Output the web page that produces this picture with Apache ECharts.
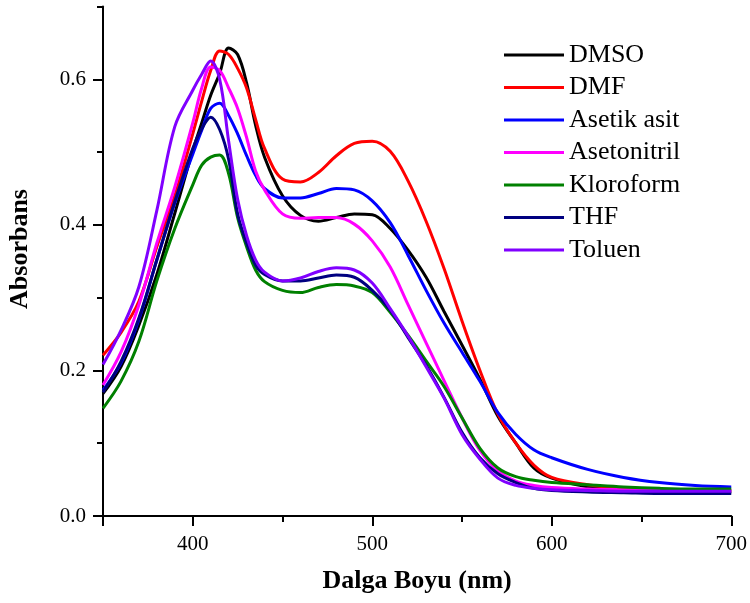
<!DOCTYPE html>
<html>
<head>
<meta charset="utf-8">
<script src="https://cdn.jsdelivr.net/npm/echarts@6/dist/echarts.min.js"></script>
<style>html,body{margin:0;padding:0;background:#fff}#c{width:750px;height:603px}</style>
</head>
<body>
<div id="c"></div>
<script>
var wavelength = [350,360,370,380,390,400,405,410,415,420,425,430,435,440,450,460,470,480,490,500,510,520,530,540,550,560,570,580,590,600,620,640,660,680,700];
var seriesNames = ['DMSO','DMF','Asetik asit','Asetonitril','Kloroform','THF','Toluen'];
var dmso        = [0.168,0.205,0.262,0.332,0.416,0.502,0.540,0.578,0.608,0.643,0.634,0.595,0.537,0.493,0.440,0.413,0.405,0.410,0.415,0.414,0.395,0.365,0.328,0.281,0.235,0.188,0.137,0.100,0.066,0.052,0.040,0.036,0.034,0.033,0.033];
var dmf         = [0.221,0.252,0.295,0.370,0.440,0.525,0.570,0.612,0.639,0.634,0.615,0.588,0.545,0.505,0.463,0.459,0.472,0.495,0.512,0.515,0.501,0.460,0.405,0.340,0.268,0.200,0.140,0.100,0.070,0.053,0.043,0.038,0.036,0.035,0.035];
var asetikAsit  = [0.173,0.210,0.270,0.352,0.430,0.497,0.530,0.560,0.567,0.550,0.525,0.495,0.468,0.450,0.437,0.437,0.443,0.450,0.448,0.433,0.403,0.358,0.310,0.265,0.225,0.185,0.142,0.112,0.091,0.080,0.064,0.053,0.046,0.042,0.040];
var asetonitril = [0.180,0.225,0.290,0.375,0.452,0.540,0.588,0.617,0.612,0.588,0.560,0.520,0.474,0.448,0.415,0.409,0.410,0.410,0.401,0.378,0.342,0.290,0.238,0.186,0.135,0.090,0.062,0.048,0.042,0.039,0.037,0.036,0.035,0.035,0.035];
var kloroform   = [0.148,0.185,0.240,0.323,0.395,0.455,0.482,0.493,0.496,0.470,0.410,0.370,0.338,0.322,0.310,0.307,0.314,0.318,0.316,0.307,0.280,0.248,0.213,0.178,0.135,0.093,0.066,0.054,0.049,0.046,0.043,0.040,0.038,0.037,0.037];
var thf         = [0.170,0.212,0.272,0.352,0.432,0.505,0.532,0.548,0.531,0.490,0.415,0.375,0.345,0.332,0.323,0.323,0.327,0.331,0.328,0.310,0.283,0.245,0.207,0.163,0.115,0.080,0.058,0.046,0.038,0.035,0.033,0.032,0.031,0.031,0.031];
var toluen      = [0.208,0.255,0.315,0.420,0.535,0.585,0.607,0.625,0.600,0.515,0.435,0.385,0.352,0.335,0.323,0.327,0.336,0.341,0.338,0.320,0.285,0.247,0.205,0.162,0.112,0.078,0.052,0.042,0.038,0.036,0.035,0.034,0.034,0.034,0.034];
var seriesColors = ['#000000','#ff0000','#0000ff','#ff00ff','#008000','#000080','#8000ff'];
var xMajorTicks = [350,400,500,600,700];
var xLabels = [400,500,600,700];
var xMinorTicks = [450,550,650];
var yMajorTicks = [0,0.2,0.4,0.6];
var yMinorTicks = [0.1,0.3,0.5,0.7];

var allValues = [dmso,dmf,asetikAsit,asetonitril,kloroform,thf,toluen];
var font = 'Liberation Serif, Times New Roman, serif';

function pairs(vals){ return wavelength.map(function(w,i){return [w, vals[i]];}); }

var series = seriesNames.map(function(n,i){
  return {
    name:n, type:'line', xAxisIndex:0, yAxisIndex:0,
    data: pairs(allValues[i]), smooth:0.35, symbol:'none',
    lineStyle:{color:seriesColors[i], width:3}, itemStyle:{color:seriesColors[i]}
  };
});

var chart = echarts.init(document.getElementById('c'));
chart.setOption({
  animation:false,
  backgroundColor:'#ffffff',
  grid:{left:103, right:17, top:6.5, bottom:87, containLabel:false},
  legend:{
    orient:'vertical', left:504, top:42, padding:0, icon:'rect', itemWidth:60, itemHeight:3,
    itemGap:6.5, data:seriesNames,
    textStyle:{fontFamily:font, fontSize:26, color:'#000'}
  },
  xAxis:[{
    type:'value', min:350, max:700, position:'bottom',
    name:'Dalga Boyu (nm)', nameLocation:'middle', nameGap:52,
    nameTextStyle:{fontFamily:font, fontSize:26, fontWeight:'bold', color:'#000'},
    axisLine:{show:true, onZero:false, lineStyle:{color:'#000', width:2}},
    axisTick:{show:true, inside:false, length:10, customValues:xMajorTicks, lineStyle:{color:'#000', width:2}},
    axisLabel:{show:true, customValues:xLabels, margin:18, fontFamily:font, fontSize:21, color:'#000'},
    splitLine:{show:false}
  },{
    type:'value', min:350, max:700, position:'bottom',
    axisLine:{show:false},
    axisTick:{show:true, length:6, customValues:xMinorTicks, lineStyle:{color:'#000', width:2}},
    axisLabel:{show:false}, splitLine:{show:false}
  }],
  yAxis:[{
    type:'value', min:0, max:0.7, position:'left',
    axisLine:{show:true, onZero:false, lineStyle:{color:'#000', width:2}},
    axisTick:{show:true, length:10, customValues:yMajorTicks, lineStyle:{color:'#000', width:2}},
    axisLabel:{show:true, customValues:yMajorTicks, margin:17, fontFamily:font, fontSize:21, color:'#000',
      formatter:function(v){return v.toFixed(1);}},
    splitLine:{show:false}
  },{
    type:'value', min:0, max:0.7, position:'left',
    axisLine:{show:false},
    axisTick:{show:true, length:6, customValues:yMinorTicks, lineStyle:{color:'#000', width:2}},
    axisLabel:{show:false}, splitLine:{show:false}
  }],
  graphic:[{
    type:'text', x:20, y:249, rotation:Math.PI/2,
    style:{text:'Absorbans', font:'bold 26px ' + font, fill:'#000', textAlign:'center', textVerticalAlign:'middle'}
  }],
  series:series
});
</script>
</body>
</html>
